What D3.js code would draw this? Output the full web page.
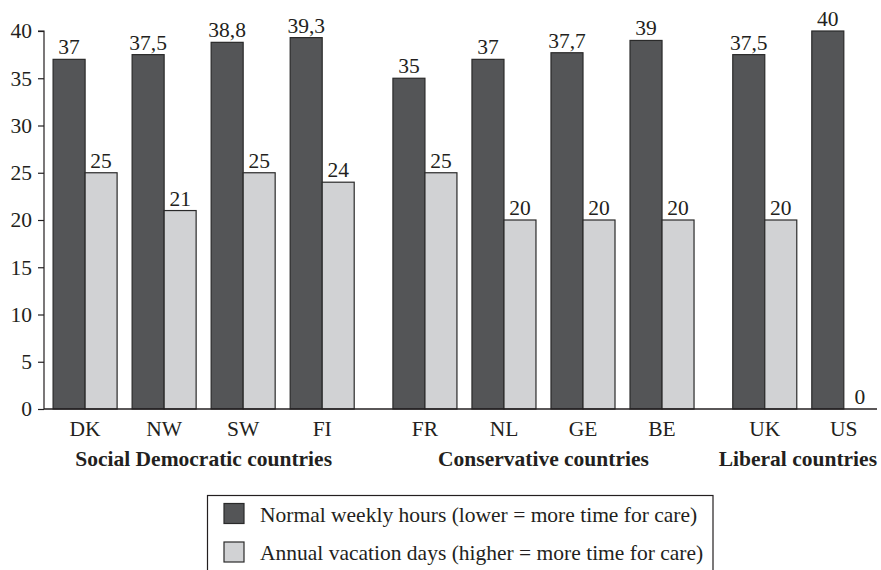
<!DOCTYPE html>
<html>
<head>
<meta charset="utf-8">
<script src="https://cdn.jsdelivr.net/npm/d3@7"></script>
<style>
  html, body { margin: 0; padding: 0; background: #fff; }
  svg { display: block; }
</style>
</head>
<body>
<svg id="chart" width="881" height="570"></svg>
<script>
// Countries, their regime group, and the two measures per country
const countries = ["DK", "NW", "SW", "FI", "FR", "NL", "GE", "BE", "UK", "US"];
const groupOf   = [0, 0, 0, 0, 1, 1, 1, 1, 2, 2];
const groups    = ["Social Democratic countries", "Conservative countries", "Liberal countries"];
const weeklyHours   = [37, 37.5, 38.8, 39.3, 35, 37, 37.7, 39, 37.5, 40];
const vacationDays  = [25, 21, 25, 24, 25, 20, 20, 20, 20, 0];
const seriesNames = [
  "Normal weekly hours (lower = more time for care)",
  "Annual vacation days (higher = more time for care)"
];
const yTicks = [0, 5, 10, 15, 20, 25, 30, 35, 40];

const serif = "'Liberation Serif', Tinos, 'Times New Roman', 'DejaVu Serif', serif";
const fs = 21.5;
const ink = "#231f20";
const darkFill = "#545557", lightFill = "#d1d2d4", edge = "#2a2a2a";
const groupGap = 0.3;      // extra space between regime groups, in slot units
const barW = 0.405;        // width of one bar, in slot units

const svg = d3.select("#chart");

// slot position: index plus the accumulated group gaps
const slot = i => i + groupOf[i] * groupGap;

const x = d3.scaleLinear().domain([-0.52, 10.02]).range([44, 877]);
const y = d3.scaleLinear().domain([0, 40]).range([409, 31]);
const unit = x(1) - x(0);

const fmt = v => String(v).replace(".", ",");

// Y axis
const yAxis = svg.append("g")
  .attr("transform", `translate(${x.range()[0]},0)`)
  .call(d3.axisLeft(y).tickValues(yTicks).tickSize(6).tickPadding(6).tickFormat(d3.format("d")));
yAxis.attr("font-family", serif).attr("font-size", fs);
yAxis.select(".domain").attr("stroke", ink).attr("stroke-width", 1.2).attr("d", `M-6,${y(40)}H0V${y(0)}`);
yAxis.selectAll(".tick line").attr("stroke", ink).attr("stroke-width", 1.2);
yAxis.selectAll(".tick text").attr("fill", ink);

// Bars
const rows = countries.map((c, i) => ({ c, i, h: weeklyHours[i], v: vacationDays[i] }));
const bars = svg.append("g");
bars.selectAll("rect.hours").data(rows).join("rect")
  .attr("class", "hours")
  .attr("x", d => x(slot(d.i)) - barW * unit)
  .attr("width", barW * unit)
  .attr("y", d => y(d.h))
  .attr("height", d => y(0) - y(d.h))
  .attr("fill", darkFill).attr("stroke", edge).attr("stroke-width", 1.2);
bars.selectAll("rect.vac").data(rows.filter(d => d.v > 0)).join("rect")
  .attr("class", "vac")
  .attr("x", d => x(slot(d.i)))
  .attr("width", barW * unit)
  .attr("y", d => y(d.v))
  .attr("height", d => y(0) - y(d.v))
  .attr("fill", lightFill).attr("stroke", edge).attr("stroke-width", 1.2);

// X axis baseline
svg.append("line")
  .attr("x1", x.range()[0]).attr("x2", x.range()[1])
  .attr("y1", y(0)).attr("y2", y(0))
  .attr("stroke", ink).attr("stroke-width", 1.4);

// Value labels
const labels = svg.append("g")
  .attr("font-family", serif).attr("font-size", fs).attr("fill", ink).attr("text-anchor", "middle");
labels.selectAll("text.h").data(rows).join("text")
  .attr("x", d => x(slot(d.i)) - barW * unit / 2)
  .attr("y", d => y(d.h) - 5)
  .text(d => fmt(d.h));
labels.selectAll("text.v").data(rows).join("text")
  .attr("x", d => x(slot(d.i)) + barW * unit / 2)
  .attr("y", d => y(d.v) - 5)
  .text(d => fmt(d.v));

// Country labels
svg.append("g")
  .attr("font-family", serif).attr("font-size", fs).attr("fill", ink).attr("text-anchor", "middle")
  .selectAll("text").data(rows).join("text")
  .attr("x", d => x(slot(d.i)))
  .attr("y", 435.5)
  .text(d => d.c);

// Group labels, centred under their countries but kept inside the axis extent
const rightLimit = x.range()[1];
svg.append("g")
  .attr("font-family", serif).attr("font-size", fs).attr("font-weight", "bold")
  .attr("fill", ink).attr("text-anchor", "middle")
  .selectAll("text").data(groups).join("text")
  .attr("y", 466)
  .text(g => g)
  .attr("x", function (g, gi) {
    const idx = d3.range(countries.length).filter(i => groupOf[i] === gi);
    const cx = (x(slot(idx[0])) + x(slot(idx[idx.length - 1]))) / 2;
    const half = this.getComputedTextLength() / 2;
    return Math.min(cx, rightLimit - half);
  });

// Legend
const legend = svg.append("g");
legend.append("rect")
  .attr("x", 207.5).attr("y", 495.5).attr("width", 505.5).attr("height", 90)
  .attr("fill", "none").attr("stroke", ink).attr("stroke-width", 1.2);
const legendItems = legend.selectAll("g").data(seriesNames).join("g")
  .attr("transform", (d, i) => `translate(224,${503.5 + i * 38.5})`);
legendItems.append("rect")
  .attr("width", 20).attr("height", 20)
  .attr("fill", (d, i) => i === 0 ? darkFill : lightFill)
  .attr("stroke", edge).attr("stroke-width", 1.2);
legendItems.append("text")
  .attr("x", 36).attr("y", 18)
  .attr("font-family", serif).attr("font-size", fs).attr("fill", ink)
  .text(d => d);
</script>
</body>
</html>
